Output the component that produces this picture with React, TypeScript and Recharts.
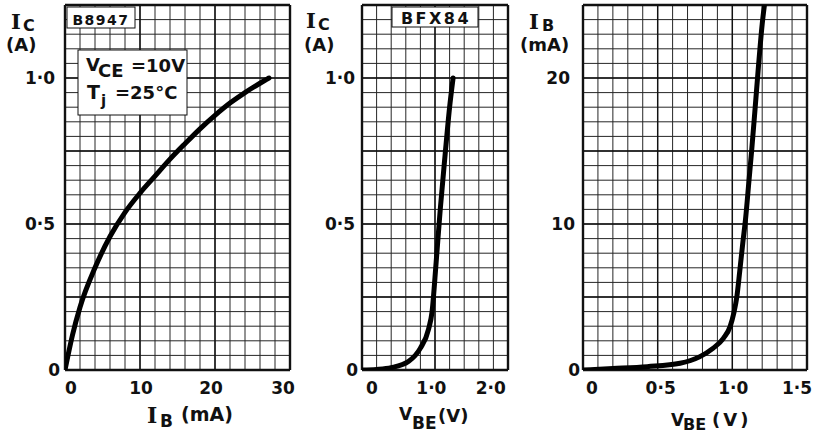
import { LineChart, Line, XAxis, YAxis, CartesianGrid, ReferenceLine } from 'recharts';

// B8947 left panel: IC (A) against IB (mA), VCE = 10 V, Tj = 25 C
const ibMilliamps = [0, 1, 2, 4, 6, 8, 10, 12, 14, 16, 18, 20, 22, 24, 26, 27.2];
const icVsIb = [0, 0.12, 0.215, 0.35, 0.457, 0.54, 0.606, 0.664, 0.722, 0.775, 0.826, 0.872, 0.914, 0.95, 0.982, 1.0];

// BFX84 middle panel: IC (A) against VBE (V)
const vbeMiddle = [0, 0.25, 0.5, 0.8, 1.0, 1.14, 1.2, 1.27, 1.34, 1.42, 1.5, 1.56];
const icVsVbe = [0, 0.002, 0.008, 0.03, 0.075, 0.14, 0.2, 0.37, 0.55, 0.73, 0.9, 1.0];

// right panel: IB (mA) against VBE (V)
const vbeRight = [0, 0.2, 0.43, 0.65, 0.78, 0.87, 0.94, 0.985, 1.01, 1.03, 1.05, 1.07, 1.09, 1.11, 1.13, 1.15, 1.175, 1.2, 1.215];
const ibVsVbe = [0, 0.1, 0.23, 0.46, 0.9, 1.48, 2.17, 2.97, 3.9, 5.0, 6.8, 8.7, 10.5, 12.8, 15.1, 17.6, 20.8, 23.7, 25];

// labelled ticks
const ibTickValues = [0, 10, 20, 30];
const ibTickText = ['0', '10', '20', '30'];
const icTickValues = [0, 0.5, 1.0];
const icTickText = ['0', '0·5', '1·0'];
const vbeMidTickValues = [0, 1, 2];
const vbeMidTickText = ['0', '1·0', '2·0'];
const vbeTickValues = [0, 0.5, 1.0, 1.5];
const vbeTickText = ['0', '0·5', '1·0', '1·5'];
const ibRightTickValues = [0, 10, 20];
const ibRightTickText = ['0', '10', '20'];

const FONT = '"DejaVu Sans", sans-serif';
const SERIF = '"DejaVu Serif", serif';
const INK = '#111';

const pairs = (xs: number[], ys: number[]) => xs.map((x, i) => ({ x, y: ys[i] }));

// graph-paper rulings
const steps = (max: number, step: number) => {
  const out: number[] = [];
  for (let i = 0; i <= Math.round(max / step); i++) out.push(Number((i * step).toFixed(4)));
  return out;
};

const makeTick = (values: number[], texts: string[], shifts: number[], side: 'x' | 'y') => (props: any) => {
  const { x, y, payload } = props;
  const i = values.findIndex((v) => Math.abs(v - payload.value) < 1e-6);
  if (i < 0) return <g />;
  return (
    <text
      x={x + shifts[i]}
      y={y}
      dy={side === 'x' ? '0.71em' : '0.36em'}
      textAnchor={side === 'x' ? 'middle' : 'end'}
      fontFamily={FONT}
      fontWeight="bold"
      fontSize={17}
      fill={INK}
    >
      {texts[i]}
    </text>
  );
};

interface PanelProps {
  left: number;
  width: number;
  yAxisWidth: number;
  rightMargin: number;
  xMax: number;
  xStep: number;
  yMax: number;
  yStep: number;
  series: { x: number; y: number }[];
  xTick: (p: any) => any;
  yTick: (p: any) => any;
}

const Panel = (p: PanelProps) => {
  const xGrid = steps(p.xMax, p.xStep);
  const yGrid = steps(p.yMax, p.yStep);
  const xMajors = xGrid.filter((_, i) => i % 5 === 0);
  const yMajors = yGrid.filter((_, i) => i % 5 === 0);
  return (
    <div style={{ position: 'absolute', left: p.left, top: 0 }}>
      <LineChart width={p.width} height={433} margin={{ top: 5, right: p.rightMargin, bottom: 33, left: 0 }}>
        <CartesianGrid stroke="#262626" strokeWidth={1} />
        <XAxis
          type="number"
          dataKey="x"
          domain={[0, p.xMax]}
          ticks={xGrid}
          interval={0}
          height={30}
          axisLine={false}
          tickLine={false}
          tickSize={0}
          tickMargin={12}
          tick={p.xTick}
          allowDataOverflow
        />
        <YAxis
          type="number"
          dataKey="y"
          domain={[0, p.yMax]}
          ticks={yGrid}
          interval={0}
          width={p.yAxisWidth}
          axisLine={false}
          tickLine={false}
          tickSize={0}
          tickMargin={0}
          tick={p.yTick}
          allowDataOverflow
        />
        {xMajors.map((v) => (
          <ReferenceLine key={'x' + v} x={v} stroke={INK} strokeWidth={v === 0 || v === p.xMax ? 2.4 : 1.4} />
        ))}
        {yMajors.map((v) => (
          <ReferenceLine key={'y' + v} y={v} stroke={INK} strokeWidth={v === 0 || v === p.yMax ? 2.4 : 1.4} />
        ))}
        <Line
          data={p.series}
          dataKey="y"
          type="monotone"
          stroke="#000"
          strokeWidth={5}
          strokeLinecap="round"
          dot={false}
          isAnimationActive={false}
        />
      </LineChart>
    </div>
  );
};

const Labels = () => {
  const sans = { fontFamily: FONT, fontWeight: 'bold' as const, fill: INK };
  const serif = { fontFamily: SERIF, fontWeight: 'bold' as const, fill: INK };
  return (
    <svg width={813} height={433} style={{ position: 'absolute', left: 0, top: 0, pointerEvents: 'none' }}>
      {/* y titles */}
      <text x={11} y={29} fontSize={21} {...serif}>I</text>
      <text x={23} y={31} fontSize={16} {...sans}>C</text>
      <text x={6} y={51} fontSize={18} {...sans}>(A)</text>

      <text x={306} y={28} fontSize={21} {...serif}>I</text>
      <text x={318} y={30} fontSize={16} {...sans}>C</text>
      <text x={304} y={51} fontSize={18} {...sans}>(A)</text>

      <text x={529} y={29} fontSize={21} {...serif}>I</text>
      <text x={542} y={31} fontSize={16} {...sans}>B</text>
      <text x={520} y={51} fontSize={18} {...sans}>(mA)</text>

      {/* x titles */}
      <text x={147} y={423} fontSize={22} {...serif}>I</text>
      <text x={160} y={427} fontSize={17} {...sans}>B</text>
      <text x={181} y={421} fontSize={19} {...sans}>(mA)</text>

      <text x={399} y={420} fontSize={17} {...sans}>V</text>
      <text x={412} y={429} fontSize={17} {...sans}>BE</text>
      <text x={438} y={422} fontSize={18} {...sans}>(V)</text>

      <text x={671} y={426} fontSize={17} {...sans}>V</text>
      <text x={683} y={430} fontSize={16} {...sans}>BE</text>
      <text x={712} y={426} fontSize={18} fontFamily={FONT} fontWeight="bold" fill={INK} letterSpacing={3}>(V)</text>

      {/* type boxes */}
      <rect x={67} y={7} width={68} height={21} fill="#fff" stroke={INK} strokeWidth={1} />
      <text x={101} y={25} fontSize={14} textAnchor="middle" letterSpacing={1.5} {...sans}>B8947</text>

      <rect x={78} y={50} width={109} height={65} fill="#fff" stroke={INK} strokeWidth={1} />
      <text x={86} y={71} fontSize={18} {...sans}>V</text>
      <text x={98} y={77} fontSize={18} {...sans}>CE</text>
      <text x={131} y={72} fontSize={18} {...sans}>=10V</text>
      <text x={87} y={99} fontSize={19} {...sans}>T</text>
      <text x={101} y={106} fontSize={15} {...sans}>j</text>
      <text x={115} y={99} fontSize={18} {...sans}>=25°C</text>

      <rect x={392} y={7} width={86} height={20} fill="#fff" stroke={INK} strokeWidth={1} />
      <text x={436} y={24} fontSize={16} textAnchor="middle" letterSpacing={2.5} {...sans}>BFX84</text>
    </svg>
  );
};

export default function App() {
  return (
    <div style={{ position: 'absolute', left: 0, top: 0, width: 813, height: 433, background: '#fff', overflow: 'hidden' }}>
      <Panel
        left={0}
        width={300}
        yAxisWidth={65}
        rightMargin={10}
        xMax={30}
        xStep={2}
        yMax={1.25}
        yStep={0.05}
        series={pairs(ibMilliamps, icVsIb)}
        xTick={makeTick(ibTickValues, ibTickText, [6, 1, -4, -7], 'x')}
        yTick={makeTick(icTickValues, icTickText, [-5, -10, -10], 'y')}
      />
      <Panel
        left={300}
        width={215}
        yAxisWidth={62}
        rightMargin={7}
        xMax={2.5}
        xStep={0.25}
        yMax={1.25}
        yStep={0.05}
        series={pairs(vbeMiddle, icVsVbe)}
        xTick={makeTick(vbeMidTickValues, vbeMidTickText, [10, 11, 12], 'x')}
        yTick={makeTick(icTickValues, icTickText, [-4, -7, -7], 'y')}
      />
      <Panel
        left={515}
        width={298}
        yAxisWidth={68}
        rightMargin={6}
        xMax={1.5}
        xStep={0.1}
        yMax={25}
        yStep={1}
        series={pairs(vbeRight, ibVsVbe)}
        xTick={makeTick(vbeTickValues, vbeTickText, [9, 3, 1, -10], 'x')}
        yTick={makeTick(ibRightTickValues, ibRightTickText, [-3, -8, -13], 'y')}
      />
      <Labels />
    </div>
  );
}
